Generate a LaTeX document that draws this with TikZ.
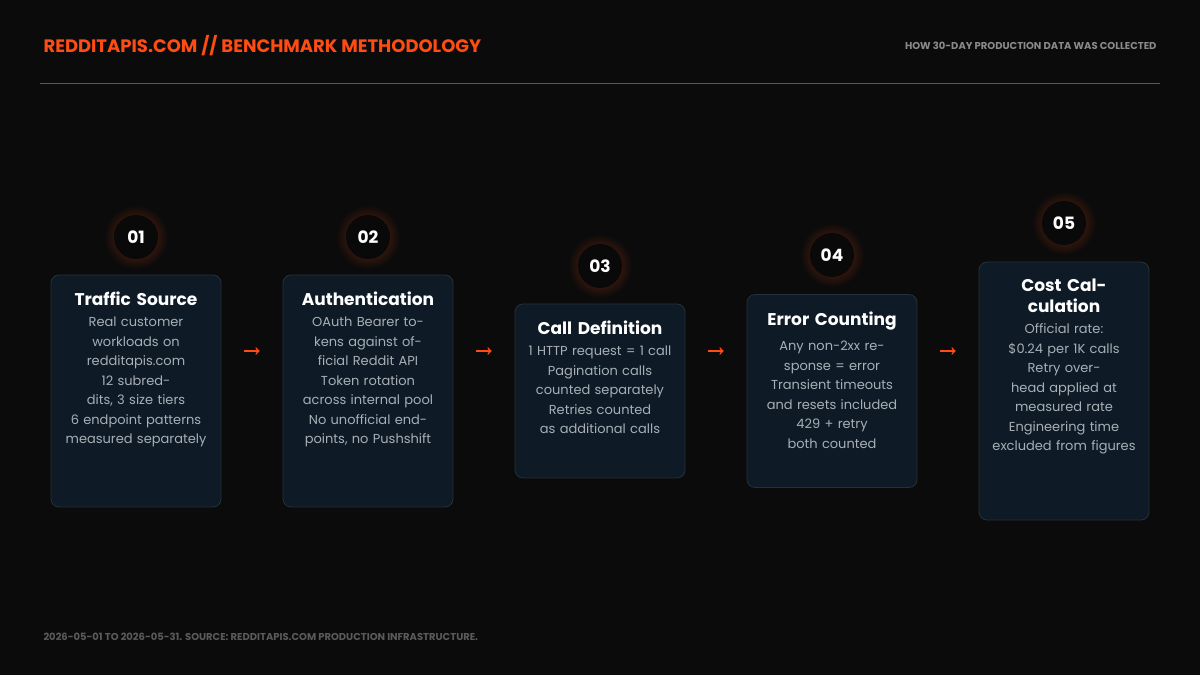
\documentclass[tikz,border=0pt]{standalone}
\usepackage{fontspec}
\setmainfont{Poppins}
\usetikzlibrary{positioning}
\definecolor{bgcol}{HTML}{0B0B0B}
\definecolor{boxfill}{HTML}{0E1B26}
\definecolor{boxline}{HTML}{24313B}
\definecolor{accent}{HTML}{FF4C12}
\definecolor{bodytxt}{HTML}{A8AFB6}
\definecolor{greytxt}{HTML}{8A8A8A}
\definecolor{foottxt}{HTML}{5A5A5A}
\begin{document}
\begin{tikzpicture}[x=1pt,y=1pt,
    stepbox/.style={draw=boxline,fill=boxfill,rounded corners=8pt,line width=0.8pt,minimum width=170pt},
    steptitle/.style={text=white,font=\fontsize{17}{21}\selectfont\bfseries,align=center,text width=150pt},
    stepbody/.style={text=bodytxt,font=\fontsize{13}{19.5}\selectfont,align=center,text width=150pt},
    glow/.style={circle,minimum size=64pt,inner color=accent!45!bgcol,outer color=bgcol},
    badge/.style={circle,fill=bgcol!80!black,minimum size=44pt,text=white,font=\fontsize{17}{20}\selectfont\bfseries},
    flow/.style={->,accent,line width=1.6pt,shorten >=23pt,shorten <=23pt}]

    % --------------------------------------------------------- %
    % ------------- background and header
    % --------------------------------------------------------- %
    \fill[bgcol] (0,0) rectangle (1200,675);
    \node[anchor=west,text=accent,font=\fontsize{18}{22}\selectfont\bfseries] (title) at (40,629) {REDDITAPIS.COM // BENCHMARK METHODOLOGY};
    \node[anchor=east,text=greytxt,font=\fontsize{10}{12}\selectfont\bfseries] (subtitle) at (1160,629) {HOW 30-DAY PRODUCTION DATA WAS COLLECTED};
    \draw[accent!70!bgcol,line width=0.8pt] (40,592) -- (1160,592);
    \node[anchor=west,text=foottxt,font=\fontsize{10}{12}\selectfont\bfseries] (footer) at (40,38) {2026-05-01 TO 2026-05-31. SOURCE: REDDITAPIS.COM PRODUCTION INFRASTRUCTURE.};

    % --------------------------------------------------------- %
    % ------------ Steps
    % --------------------------------------------------------- %
    % --- step 1
    \node[stepbox,minimum height=232pt] (box1) at (136,284) {};
    \node[glow] at (136,438) {};
    \node[badge] (num1) at (136,438) {01};
    \node[steptitle,below=14pt of box1.north] (head1) {Traffic Source};
    \node[stepbody,below=4pt of head1] (body1) {Real customer workloads on redditapis.com\\12 subreddits, 3 size tiers\\6 endpoint patterns measured separately};
    % --- step 2
    \node[stepbox,minimum height=232pt] (box2) at (368,284) {};
    \node[glow] at (368,438) {};
    \node[badge] (num2) at (368,438) {02};
    \node[steptitle,below=14pt of box2.north] (head2) {Authentication};
    \node[stepbody,below=4pt of head2] (body2) {OAuth Bearer tokens against official Reddit API\\Token rotation across internal pool\\No unofficial endpoints, no Pushshift};
    % --- step 3
    \node[stepbox,minimum height=174pt] (box3) at (600,284) {};
    \node[glow] at (600,409) {};
    \node[badge] (num3) at (600,409) {03};
    \node[steptitle,below=14pt of box3.north] (head3) {Call Definition};
    \node[stepbody,below=4pt of head3] (body3) {1 HTTP request = 1 call\\Pagination calls counted separately\\Retries counted as additional calls};
    % --- step 4
    \node[stepbox,minimum height=193pt] (box4) at (832,284) {};
    \node[glow] at (832,420) {};
    \node[badge] (num4) at (832,420) {04};
    \node[steptitle,below=14pt of box4.north] (head4) {Error Counting};
    \node[stepbody,below=4pt of head4] (body4) {Any non-2xx response = error\\Transient timeouts and resets included\\429 + retry both counted};
    % --- step 5
    \node[stepbox,minimum height=258pt] (box5) at (1064,284) {};
    \node[glow] at (1064,452) {};
    \node[badge] (num5) at (1064,452) {05};
    \node[steptitle,text width=110pt,below=14pt of box5.north] (head5) {Cost Calculation};
    \node[stepbody,below=4pt of head5] (body5) {Official rate: \$0.24 per 1K calls\\Retry overhead applied at measured rate\\Engineering time excluded from figures};

    % --------------------------------------------------------- %
    % ------------ Arrows
    % --------------------------------------------------------- %
    \draw[flow] ([yshift=40pt]box1.east) -- ([yshift=40pt]box2.west);
    \draw[flow] ([yshift=40pt]box2.east) -- ([yshift=40pt]box3.west);
    \draw[flow] ([yshift=40pt]box3.east) -- ([yshift=40pt]box4.west);
    \draw[flow] ([yshift=40pt]box4.east) -- ([yshift=40pt]box5.west);

\end{tikzpicture}
\end{document}
